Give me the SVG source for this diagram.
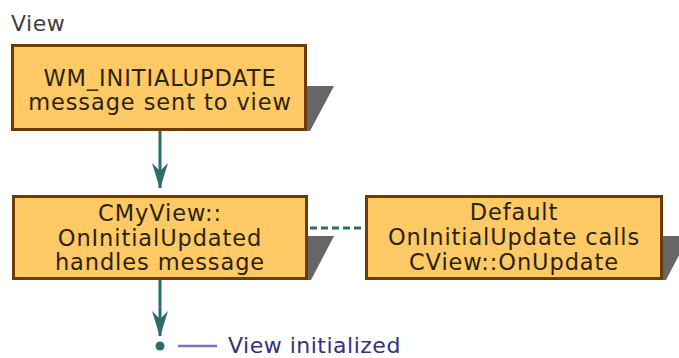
<svg xmlns="http://www.w3.org/2000/svg" width="679" height="358" viewBox="0 0 679 358">
<style>
.box{fill:#FFC966;stroke:#6E3C00;stroke-width:3}
.shadow{fill:#666666}
.t{font-family:"DejaVu Sans",Verdana,sans-serif;font-size:22.5px;letter-spacing:0.9px;fill:#2B2410;text-anchor:middle}
.lbl{font-family:"DejaVu Sans",Verdana,sans-serif;font-size:22px;letter-spacing:0.5px;fill:#404040}
.conn{stroke:#2E6B6B;stroke-width:3;fill:none}
</style>
<defs>
<marker id="ah" markerUnits="userSpaceOnUse" viewBox="0 0 26 16" refX="25" refY="8" markerWidth="26" markerHeight="16" orient="auto">
<path d="M0,0 L26,8 L0,16 L8,8 Z" fill="#2E6B6B"/>
</marker>
</defs>
<text class="lbl" x="11" y="31">View</text>
<g id="connectors">
<path class="conn" d="M160,131 L160,188" marker-end="url(#ah)"/>
<path class="conn" d="M160,280 L160,336" marker-end="url(#ah)"/>
<path class="conn" d="M310,228 L364,228" stroke-dasharray="7 4"/>
</g>
<g id="node1">
<polygon class="shadow" points="307,86 334,86 310,131 307,131"/>
<rect class="box" x="12.5" y="45.5" width="293" height="84"/>
<text class="t" x="160" y="86">WM_INITIALUPDATE</text>
<text class="t" x="160" y="110">message sent to view</text>
</g>
<g id="node2">
<polygon class="shadow" points="308,236 334,236 311,280 308,280"/>
<rect class="box" x="13.5" y="196.5" width="293" height="82"/>
<text class="t" x="160" y="221">CMyView::</text>
<text class="t" x="160" y="246">OnInitialUpdated</text>
<text class="t" x="160" y="270">handles message</text>
</g>
<g id="node3">
<polygon class="shadow" points="663,236 689,236 666,280 663,280"/>
<rect class="box" x="366.5" y="196.5" width="295" height="82"/>
<text class="t" x="514" y="220">Default</text>
<text class="t" x="514" y="245">OnInitialUpdate calls</text>
<text class="t" x="514" y="270">CView::OnUpdate</text>
</g>
<g id="end">
<circle cx="160" cy="346" r="4.5" fill="#2E6B6B"/>
<line x1="178" y1="346" x2="217" y2="346" stroke="#7777BB" stroke-width="2.5"/>
<text class="lbl" x="228" y="352.5" style="fill:#33337A">View initialized</text>
</g>
</svg>
